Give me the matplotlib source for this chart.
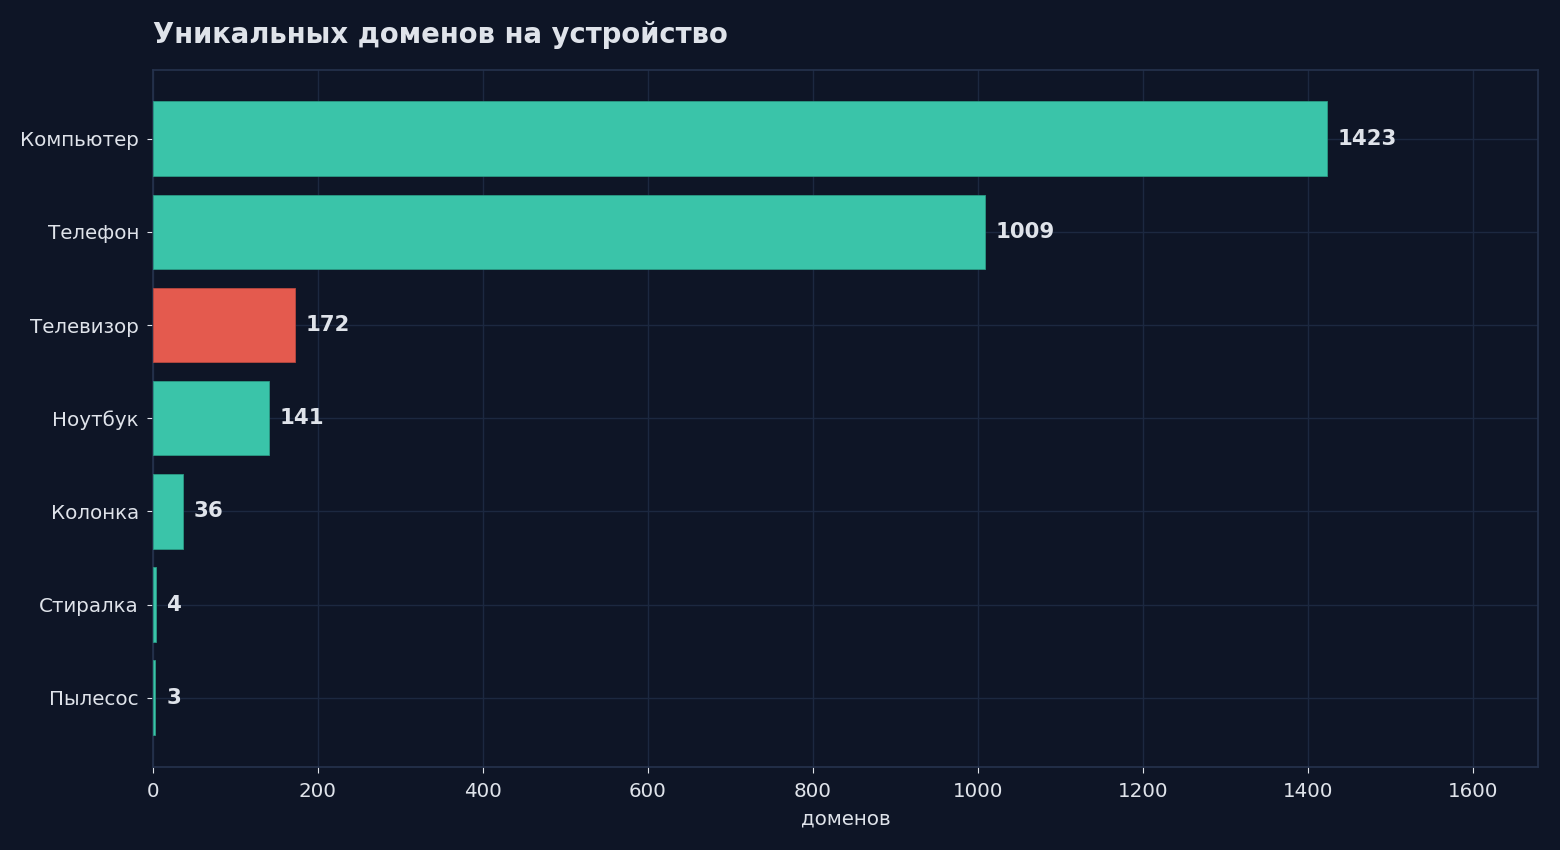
import matplotlib
matplotlib.use('Agg')
import matplotlib.pyplot as plt

categories = ['Компьютер', 'Телефон', 'Телевизор', 'Ноутбук', 'Колонка', 'Стиралка', 'Пылесос']
values = [1423, 1009, 172, 141, 36, 4, 3]
highlight = 'Телевизор'

BG = '#0e1526'
TEAL = '#3ac4a9'
TEAL_EDGE = '#2a9a84'
RED = '#e45a4e'
RED_EDGE = '#b8483f'
TEXT = '#dfe3ea'
GRID = '#1c2840'
SPINE = '#25324d'


def main():
    fig, ax = plt.subplots(figsize=(15.6, 8.5), dpi=100)
    fig.patch.set_facecolor(BG)
    ax.set_facecolor(BG)

    colors = [RED if c == highlight else TEAL for c in categories]
    edges = [RED_EDGE if c == highlight else TEAL_EDGE for c in categories]
    ys = list(range(len(categories)))
    ax.barh(ys, values, height=0.8, color=colors, edgecolor=edges, linewidth=0.6, zorder=3)
    ax.set_yticks(ys)
    ax.set_yticklabels(categories)
    ax.invert_yaxis()

    ax.set_xlim(0, max(values) * 1.18)
    for y, v in zip(ys, values):
        ax.text(v + 13, y, str(v), va='center', ha='left', color=TEXT,
                fontsize=15.3, fontweight='bold', zorder=4)

    ax.grid(True, color=GRID, linewidth=1, zorder=0)
    ax.set_axisbelow(True)
    for s in ax.spines.values():
        s.set_color(SPINE)
        s.set_linewidth(1.2)
    ax.tick_params(colors=TEXT, labelsize=14.3, length=4)
    ax.tick_params(axis='y', pad=6)
    ax.tick_params(axis='x', pad=7)
    ax.set_xlabel('доменов', color=TEXT, fontsize=14.3, labelpad=6)
    ax.set_title('Уникальных доменов на устройство', loc='left', color=TEXT,
                 fontsize=19.8, fontweight='bold', pad=19)

    fig.subplots_adjust(left=0.098, right=0.986, top=0.918, bottom=0.098)
    fig.savefig('out.png', dpi=100, facecolor=BG)


if __name__ == '__main__':
    main()
